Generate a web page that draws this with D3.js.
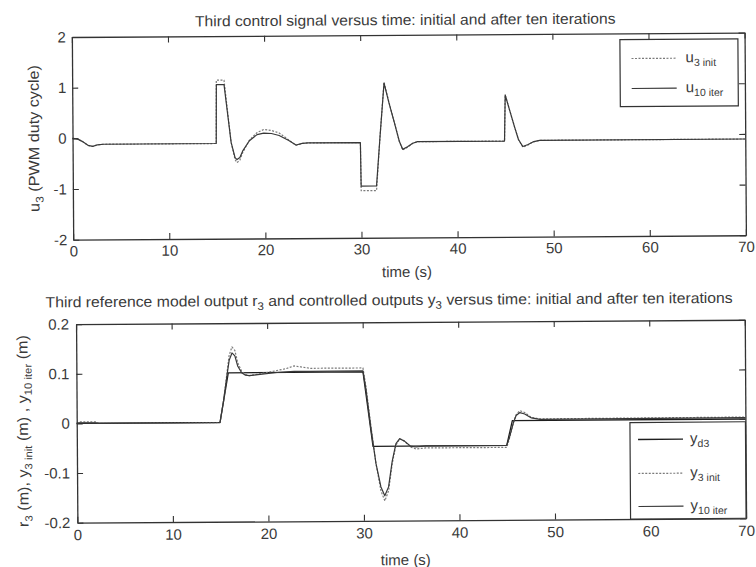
<!DOCTYPE html>
<html><head><meta charset="utf-8">
<script src="https://cdn.jsdelivr.net/npm/d3@7"></script>
<style>
body{margin:0;background:#fff}
svg{display:block}
text{font-family:"Liberation Sans",Arial,sans-serif;fill:#3a3a3a;white-space:pre}
</style>
</head><body>
<svg id="c" width="756" height="567"></svg>
<script>
// ---------------- data ----------------
const xTicks = [0,10,20,30,40,50,60,70];
const xTickLabels = ["0","10","20","30","40","50","60","70"];
const uTicks = [-2,-1,0,1,2];
const uTickLabels = ["-2","-1","0","1","2"];
const yTicks = [-0.2,-0.1,0,0.1,0.2];
const yTickLabels = ["-0.2","-0.1","0","0.1","0.2"];

// top panel: third control signal
const tU = [0,0.5,1.0,1.6,2.1,2.6,3.2,14.95,15.0,15.8,16.1,16.5,16.9,17.1,17.4,17.7,18.4,19.2,19.9,20.7,21.5,22.5,23.25,23.9,24.5,29.95,30.0,31.6,32.0,32.45,32.95,33.5,34.0,34.35,34.85,35.4,35.9,44.95,45.05,45.5,46.0,46.4,46.85,47.4,47.9,48.6,70];
const uInit = [0,-0.01,-0.06,-0.14,-0.16,-0.13,-0.12, -0.12,1.13,1.13,0.6,-0.1,-0.44,-0.5,-0.45,-0.3,-0.06,0.09,0.15,0.13,0.08,-0.06,-0.17,-0.13,-0.12, -0.12,-1.07,-1.07,0.0,1.07,0.67,0.27,-0.1,-0.27,-0.22,-0.14,-0.11, -0.11,0.8,0.5,0.17,-0.08,-0.23,-0.19,-0.13,-0.1,-0.1];
const uIter = [0,-0.01,-0.06,-0.14,-0.16,-0.13,-0.12, -0.12,1.04,1.04,0.55,-0.1,-0.4,-0.44,-0.4,-0.27,-0.07,0.05,0.08,0.07,0.03,-0.07,-0.16,-0.13,-0.12, -0.12,-0.98,-0.98,0.0,1.05,0.66,0.27,-0.1,-0.26,-0.21,-0.14,-0.11, -0.11,0.8,0.5,0.17,-0.08,-0.22,-0.18,-0.13,-0.1,-0.1];

// bottom panel: reference model output and controlled outputs
const tY = [0,0.3,2.0,2.3,15.0,15.4,15.8,16.0,16.3,16.6,16.9,17.3,17.7,18.1,19.0,19.9,21.0,22.0,22.8,23.5,24.5,27.0,30.0,30.3,30.8,31.3,31.8,32.2,32.6,33.0,33.4,33.8,34.3,34.9,35.5,36.5,45.0,45.3,45.7,46.0,46.4,46.9,47.6,48.5,70];
const y3Init = [0,0.003,0.003,0, 0,0.045,0.105,0.135,0.152,0.145,0.12,0.103,0.096,0.094, 0.097,0.1,0.104,0.108,0.113,0.111,0.108,0.108,0.108, 0.07,-0.01,-0.085,-0.14,-0.16,-0.14,-0.085,-0.048,-0.035,-0.04,-0.052,-0.056,-0.054, -0.054,-0.035,-0.005,0.012,0.02,0.016,0.006,0.003,0.004];
const y10Iter = [0,0.001,0.001,0, 0,0.045,0.1,0.125,0.14,0.134,0.113,0.1,0.095,0.094, 0.096,0.098,0.1,0.101,0.102,0.102,0.102,0.102,0.102, 0.065,-0.015,-0.085,-0.132,-0.15,-0.132,-0.08,-0.045,-0.035,-0.04,-0.05,-0.052,-0.05, -0.05,-0.033,-0.005,0.01,0.016,0.013,0.005,0.002,0.003];
const tRef = [0,15,15.9,30,31,45,45.6,70];
const yRef = [0,0,0.1,0.1,-0.05,-0.05,0,0];

// ---------------- drawing ----------------
const INK = "#333";
const styles = {
  init: {stroke:"#7a7a7a", width:1.2, dash:"2,1.5"},
  iter: {stroke:"#383838", width:1.2, dash:null},
  ref:  {stroke:"#1e1e1e", width:1.3, dash:null}
};

const svg = d3.select("#c");
svg.append("rect").attr("width",756).attr("height",567).attr("fill","#fff");
const root = svg.append("g").attr("transform","rotate(-0.38,408,283)");

function addText(parent, x, y, parts, o) {
  const g = parent.append("g").attr("transform", `translate(${x},${y})` + (o.rotate ? " rotate(-90)" : ""));
  const t = g.append("text").attr("text-anchor", o.anchor || "start").attr("font-size", o.size);
  let cur = 0;
  parts.forEach(p => {
    const isSub = Array.isArray(p);
    const target = isSub ? o.subShift : 0;
    t.append("tspan").attr("dy", target - cur).attr("font-size", isSub ? o.subSize : null).text(isSub ? p[0] : p);
    cur = target;
  });
  if (o.width) {
    const w = t.node().getBBox().width;
    t.attr("transform", `scale(${o.width / w},1)`);
  }
  return t;
}

function drawLine(g, x, y, t, v, st) {
  g.append("path")
    .datum(d3.zip(t, v))
    .attr("d", d3.line().x(d => x(d[0])).y(d => y(d[1])))
    .attr("fill", "none")
    .attr("stroke", st.stroke)
    .attr("stroke-width", st.width)
    .attr("stroke-dasharray", st.dash)
    .attr("stroke-linejoin", "round");
}

function panel(o) {
  const g = root.append("g");
  const x = d3.scaleLinear().domain([0,70]).range(o.xr);
  const y = d3.scaleLinear().domain(o.yd).range(o.yr);
  o.series.forEach(s => drawLine(g, x, y, s.t, s.v, s.st));

  const styleAxis = sel => {
    sel.attr("font-family", '"Liberation Sans",Arial,sans-serif').attr("font-size", 15).attr("color", INK);
    sel.selectAll(".domain").attr("stroke-width", 1.3);
    sel.selectAll(".tick line").attr("stroke-width", 1.1);
  };
  g.append("g").attr("transform", `translate(0,${o.yr[0]})`)
    .call(d3.axisBottom(x).tickValues(xTicks).tickFormat((d,i) => xTickLabels[i]).tickSize(-6).tickSizeOuter(0).tickPadding(o.xpad))
    .call(styleAxis);
  g.append("g").attr("transform", `translate(0,${o.yr[1]})`)
    .call(d3.axisTop(x).tickValues(xTicks).tickFormat("").tickSize(-6).tickSizeOuter(0))
    .call(styleAxis);
  g.append("g").attr("transform", `translate(${o.xr[0]},0)`)
    .call(d3.axisLeft(y).tickValues(o.yt).tickFormat((d,i) => o.ytl[i]).tickSize(-6).tickSizeOuter(0).tickPadding(o.ypad))
    .call(styleAxis);
  g.append("g").attr("transform", `translate(${o.xr[1]},0)`)
    .call(d3.axisRight(y).tickValues(o.yt).tickFormat("").tickSize(-6).tickSizeOuter(0))
    .call(styleAxis);

  // legend
  const L = o.legend;
  g.append("rect").attr("x", L.x0).attr("y", L.y0).attr("width", L.x1 - L.x0).attr("height", L.y1 - L.y0)
    .attr("fill", "#fff").attr("stroke", INK).attr("stroke-width", 1.2);
  L.items.forEach((it, i) => {
    const yy = L.rows[i];
    g.append("line").attr("x1", L.lx0).attr("x2", L.lx1).attr("y1", yy).attr("y2", yy)
      .attr("stroke", it.st.stroke).attr("stroke-width", it.st.width).attr("stroke-dasharray", it.st.dash);
    addText(g, L.tx, yy + 4, it.parts, {size:15, subSize:10.5, subShift:4});
  });
  return {x, y};
}

// top panel
panel({
  xr:[73.5,746.2], yr:[237.5,34.8], yd:[-2,2], yt:uTicks, ytl:uTickLabels, xpad:6, ypad:6,
  series:[
    {t:tU, v:uInit, st:styles.init},
    {t:tU, v:uIter, st:styles.iter}
  ],
  legend:{x0:621.5, x1:739.5, y0:41, y1:108, rows:[60,90], lx0:633, lx1:678, tx:687,
    items:[
      {st:styles.init, parts:["u",["3 init"]]},
      {st:styles.iter, parts:["u",["10 iter"]]}
    ]}
});

// bottom panel
panel({
  xr:[75.8,744.5], yr:[520.5,322], yd:[-0.2,0.2], yt:yTicks, ytl:yTickLabels, xpad:7, ypad:7,
  series:[
    {t:tRef, v:yRef, st:styles.ref},
    {t:tY, v:y3Init, st:styles.init},
    {t:tY, v:y10Iter, st:styles.iter}
  ],
  legend:{x0:629, x1:744.5, y0:424, y1:520.5, rows:[441,475,508], lx0:637, lx1:682, tx:689,
    items:[
      {st:styles.ref, parts:["y",["d3"]]},
      {st:styles.init, parts:["y",["3 init"]]},
      {st:styles.iter, parts:["y",["10 iter"]]}
    ]}
});

// titles and axis labels
addText(root, 407, 25, ["Third control signal versus time: initial and after ten iterations"], {size:15, anchor:"middle", width:421});
addText(root, 389, 305, ["Third reference model output r",["3"]," and controlled outputs y",["3"]," versus time: initial and after ten iterations"], {size:15, subSize:11, subShift:4, anchor:"middle", width:688});
addText(root, 407, 277, ["time (s)"], {size:15, anchor:"middle"});
addText(root, 404, 565, ["time (s)"], {size:15, anchor:"middle"});
addText(root, 40, 136, ["u",["3"]," (PWM duty cycle)"], {size:15, subSize:11, subShift:4, anchor:"middle", rotate:true, width:147});
addText(root, 27, 428.5, ["r",["3"]," (m), y",["3 init"]," (m) , y",["10 iter"]," (m)"], {size:15, subSize:10.5, subShift:4, anchor:"middle", rotate:true, width:192});
</script>
</body></html>
